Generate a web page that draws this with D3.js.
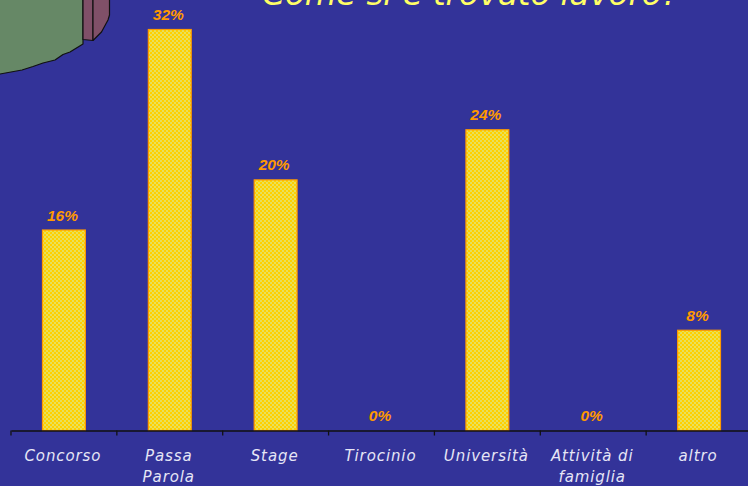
<!DOCTYPE html>
<html>
<head>
<meta charset="utf-8">
<script src="https://cdn.jsdelivr.net/npm/d3@7"></script>
<style>
html,body{margin:0;padding:0;background:#333399;overflow:hidden}
svg{display:block}
text{font-family:"DejaVu Sans",sans-serif;font-style:italic}
</style>
</head>
<body>
<script>
const categories = ["Concorso", "Passa Parola", "Stage", "Tirocinio", "Università", "Attività di famiglia", "altro"];
const categoryLines = [["Concorso"], ["Passa", "Parola"], ["Stage"], ["Tirocinio"], ["Università"], ["Attività di", "famiglia"], ["altro"]];
const shares = [16, 32, 20, 0, 24, 0, 8];
const titleText = "Come si è trovato lavoro?";

// Corner of a decorative 3D pie that sits behind the title
const pieGreenOutline = [[-3,74.5],[0,74],[11,72],[22,70],[33,66.5],[43,63],[55,60],[63,54.5],[70,52],[83,44],[83,-3],[-3,-3]];
const pieFrontFace = [[83,-3],[83,39.5],[93,40.5],[93,-3]];
const pieSideFace = [[93,-3],[93,40.5],[101.5,32],[108,20],[109.5,15],[109.5,-3]];

const W = 748, H = 486;
const svg = d3.select("body").append("svg").attr("width", W).attr("height", H);

const defs = svg.append("defs");
const dots = defs.append("pattern").attr("id", "dots").attr("patternUnits", "userSpaceOnUse")
  .attr("width", 4).attr("height", 4);
dots.append("rect").attr("width", 4).attr("height", 4).attr("fill", "#ffd000");
dots.append("circle").attr("cx", 1).attr("cy", 1).attr("r", 0.9).attr("fill", "#dfe884");
dots.append("circle").attr("cx", 3).attr("cy", 3).attr("r", 0.9).attr("fill", "#dfe884");

const x = d3.scaleBand().domain(categories).range([11, 752]).paddingInner(0.595).paddingOuter(0.2975);
const band = d3.scaleBand().domain(categories).range([11, 752]);
const y = d3.scaleLinear().domain([0, 32]).range([430.5, 29.5]);

// Pie fragment
const outline = d3.line();
const pie = svg.append("g").attr("stroke", "#111").attr("stroke-width", 1.2).attr("stroke-linejoin", "round");
pie.append("path").attr("d", outline(pieGreenOutline)).attr("fill", "#668866");
pie.append("path").attr("d", outline(pieFrontFace)).attr("fill", "#805068");
pie.append("path").attr("d", outline(pieSideFace)).attr("fill", "#805068");

// Title, running off the top edge
svg.append("text").attr("x", 470.5).attr("y", 5).attr("text-anchor", "middle")
  .attr("font-size", 32.4).attr("fill", "#ffff66").text(titleText);

// Bars
svg.append("g").selectAll("rect").data(categories.map((c, i) => ({c, v: shares[i]})).filter(d => d.v > 0))
  .join("rect")
  .attr("x", d => x(d.c)).attr("width", x.bandwidth())
  .attr("y", d => y(d.v)).attr("height", d => y(0) - y(d.v))
  .attr("fill", "url(#dots)").attr("stroke", "#ff9900").attr("stroke-width", 1.2);

// Value labels
svg.append("g").selectAll("text").data(categories.map((c, i) => ({c, v: shares[i]})))
  .join("text")
  .attr("x", d => band(d.c) + band.bandwidth() / 2 - 1.5)
  .attr("y", d => y(d.v) - 9.5)
  .attr("text-anchor", "middle").attr("font-size", 15.5).attr("font-weight", "bold")
  .style("font-family", '"Liberation Sans",Arial,sans-serif')
  .attr("fill", "#ff9900").text(d => d.v + "%");

// Category axis
const axis = d3.axisBottom(band).tickSize(0).tickFormat("");
const gAxis = svg.append("g").attr("transform", `translate(0,${y(0)})`).call(axis);
gAxis.select(".domain").attr("stroke", "#111").attr("stroke-width", 1.3);
gAxis.selectAll(".tick").remove();
gAxis.selectAll("line.edge").data([...categories.map(c => band(c)), band.range()[1]]).join("line")
  .attr("class", "edge").attr("x1", d => d).attr("x2", d => d).attr("y1", 0).attr("y2", 5)
  .attr("stroke", "#111").attr("stroke-width", 1.3);

const labels = svg.append("g").selectAll("text").data(categories.map((c, i) => ({c, lines: categoryLines[i]})))
  .join("text").attr("text-anchor", "middle").attr("font-size", 15).attr("letter-spacing", 0.9).attr("fill", "#e6e6f6");
labels.selectAll("tspan").data(d => d.lines.map((t, j) => ({t, j, c: d.c}))).join("tspan")
  .attr("x", d => band(d.c) + band.bandwidth() / 2 - 1)
  .attr("y", d => 461 + d.j * 21).text(d => d.t);
</script>
</body>
</html>
